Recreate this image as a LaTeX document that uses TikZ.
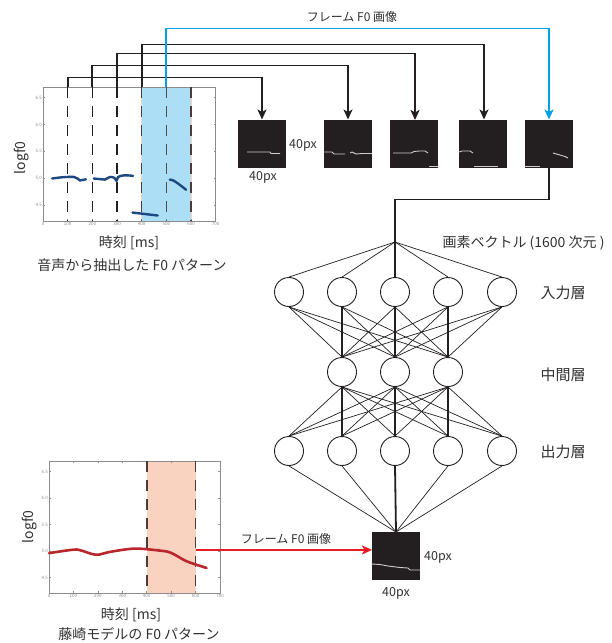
\documentclass[tikz,border=0pt]{standalone}
\usepackage{fontspec}
\setmainfont{Noto Sans CJK JP}
\usetikzlibrary{arrows.meta,calc}
\definecolor{imgbg}{RGB}{35,31,32}
\definecolor{fblue}{RGB}{172,222,246}
\definecolor{fpink}{RGB}{250,210,192}
\definecolor{cyanl}{RGB}{0,160,228}
\definecolor{redl}{RGB}{232,28,36}
\definecolor{cblue}{RGB}{30,72,130}
\definecolor{cred}{RGB}{185,38,44}
\definecolor{axg}{RGB}{140,140,140}
\definecolor{lnk}{RGB}{35,31,32}
\definecolor{pxg}{RGB}{205,205,205}
\definecolor{txt}{RGB}{50,50,50}
\definecolor{dbrown}{RGB}{75,60,58}
\begin{document}
\begin{tikzpicture}[x=1pt,y=-1pt,
  imgbox/.style={fill=imgbg,draw=none,minimum size=48pt,inner sep=0pt,outer sep=0pt},
  neuron/.style={circle,draw=lnk,line width=0.9pt,minimum size=29pt,inner sep=0pt},
  conn/.style={draw=lnk,line width=1.8pt,-{Stealth[length=10pt,width=9pt,inset=2.5pt]}},
  cconn/.style={conn,draw=cyanl},
  rconn/.style={conn,draw=redl},
  nedge/.style={draw=lnk,line width=0.7pt},
  tedge/.style={draw=lnk,line width=1.8pt},
  pxline/.style={draw=pxg,line width=0.9pt},
  frame/.style={draw=axg,line width=0.7pt},
  dline/.style={line width=1.4pt,dash pattern=on 11pt off 8pt},
  ticklab/.style={font=\fontsize{4.5}{4.5}\selectfont,text=axg,inner sep=1pt},
  lab/.style={font=\fontsize{14}{16}\selectfont,text=txt},
  small/.style={font=\fontsize{12}{14}\selectfont,text=txt},
  pxlab/.style={font=\fontsize{12.5}{14}\selectfont,text=txt},
  layer/.style={font=\fontsize{15}{17}\selectfont,text=txt}
]
\fill[white] (0,0) rectangle (611,643);
\useasboundingbox (0,0) rectangle (611,643);

% ---------------- top plot ----------------
\begin{scope}[shift={(43,178)},x=0.2467pt,y=53.6pt]
  \fill[fblue] (400,-0.8) rectangle (600,1.69);
  \draw[fpink,line width=0.6pt] (400,-0.8) rectangle (600,1.69);
  \draw[frame] (0,-0.8) rectangle (700,1.69);
  \foreach \t in {100,200,...,600}{
    \draw[axg,line width=0.5pt] (\t,-0.8) -- ++(0pt,2pt) (\t,1.69) -- ++(0pt,-2pt);
  }
  \foreach \v/\l in {1.5/6.5,1.0/6.0,0.5/5.5,0/5.0,-0.5/4.5}{
    \draw[axg,line width=0.5pt] (0,\v) -- ++(2pt,0pt) (700,\v) -- ++(-2pt,0pt);
    \node[ticklab,left] at (0,\v) {\l};
  }
  \foreach \t in {0,100,...,700}{\node[ticklab,below] at (\t,-0.8) {\t};}
  \foreach \t/\c in {100/lnk,200/lnk,300/lnk,400/dbrown,500/lnk!80,600/dbrown}{
    \draw[dline,\c] (\t,1.69) -- (\t,-0.8);
  }
  \draw[cblue,line width=2.4pt,line cap=round] plot[smooth,tension=0.6] coordinates
    {(37,-0.01) (70,0.01) (100,0.02) (125,0.02) (140,-0.01) (150,-0.045) (162,-0.035) (174,-0.025)};
  \draw[cblue,line width=2.4pt,line cap=round] plot[smooth,tension=0.6] coordinates
    {(206,-0.01) (230,-0.02) (250,-0.03) (272,0.02) (290,0.0) (298,-0.05) (305,0.02) (330,0.05) (365,0.04)};
  \draw[cblue,line width=2.4pt,line cap=round] (363,-0.645) -- (465,-0.70);
  \draw[cblue,line width=2.4pt,line cap=round] plot[smooth,tension=0.6] coordinates
    {(514,-0.03) (530,-0.05) (555,-0.13) (580,-0.22)};
  \coordinate (t1) at (100,1.69);
  \coordinate (t2) at (200,1.69);
  \coordinate (t3) at (300,1.69);
  \coordinate (t4) at (400,1.69);
  \coordinate (t5) at (500,1.69);
\end{scope}
\node[lab,rotate=90] (ylab1) at (22,158) {logf0};
\node[lab] (xlab1) at (129,243) {時刻 [ms]};
\node[lab] (tit1) at (132,265) {音声から抽出した F0 パターン};

% ---------------- frame images ----------------
\node[imgbox] (box1) at (262,143.5) {};
\node[imgbox] (box2) at (348,143.5) {};
\node[imgbox] (box3) at (414,144) {};
\node[imgbox] (box4) at (483,143.5) {};
\node[imgbox] (box5) at (549,143.5) {};
\draw[pxline] (247,152) -- (270,152) -- (271,153.5) -- (280,153.5);
\draw[pxline] (324,152) -- (332,152) -- (334,154) -- (345,154);
\draw[pxline] (350,153) -- (352,152) -- (356,154) -- (362,153.5) -- (372,153.5);
\draw[pxline] (393,153) -- (411,153) -- (414,151.5) -- (419,151) -- (425,151) -- (428,153);
\draw[pxline] (429,166) -- (438,166);
\draw[pxline] (459,152) -- (462,151) -- (470,151) -- (473,153);
\draw[pxline] (474,166) -- (498,166);
\draw[pxline] (525,166) -- (540,166);
\draw[pxline] (553,153) -- (560,155) -- (565,156.5) -- (568,158);
\node[pxlab] (px1r) at (303,145) {40px};
\node[pxlab] (px1b) at (263,177) {40px};

\draw[conn] (t1) -- ++(0,-10) -| (box1.north);
\draw[conn] (t2) -- ++(0,-22) -| (box2.north);
\draw[conn] (t3) -- ++(0,-34) -| ([xshift=1pt]box3.north);
\draw[conn] (t4) -- ++(0,-43) -| ([xshift=1pt]box4.north);
\draw[cconn] (t5) -- ++(0,-59) -| (box5.north);
\node[small] (ftop) at (352,17) {フレーム F0 画像};

% ---------------- network ----------------
\foreach \i/\x in {1/289,2/342,3/395,4/448,5/502}{
  \node[neuron] (i\i) at (\x,292) {};
  \node[neuron] (o\i) at (\x,451) {};
}
\foreach \j/\x in {1/342,2/395,3/448}{
  \node[neuron] (h\j) at (\x,372) {};
}
\coordinate (fan) at (395,242);
\draw[tedge] (box5.south) -- ++(0,32) -| (fan) -- (i3.north);
\foreach \i in {1,2,4,5}{\draw[nedge] (fan) -- (i\i.north);}
\foreach \i in {1,...,5}{
  \foreach \j in {1,2,3}{
    \draw[nedge] (i\i.south) -- (h\j.north);
    \draw[nedge] (h\j.south) -- (o\i.north);
  }
}
\draw[tedge] (i2.south) -- (h1.north);
\draw[tedge] (i3.south) -- (h2.north);
\draw[tedge] (i4.south) -- (h3.north);
\draw[tedge] (h1.south) -- (o2.north);
\draw[tedge] (h2.south) -- (o3.north);
\draw[tedge] (h3.south) -- (o4.north);

\node[font=\fontsize{14}{16}\selectfont,text=txt,anchor=west] (vec) at (439,243) {画素ベクトル (1600 次元 )};
\node[layer] (lin) at (563,293) {入力層};
\node[layer] (lmid) at (563,375) {中間層};
\node[layer] (lout) at (563,452) {出力層};

% ---------------- output image ----------------
\node[imgbox] (obox) at (396,556) {};
\draw[pxline] (372,564) -- (380,564.5) -- (388,566) -- (400,567.5) -- (408,568) -- (410,570) -- (420,570);
\foreach \i in {1,2,4,5}{\draw[nedge] (o\i.south) -- (obox.north);}
\draw[tedge] (o3.south) -- (obox.north);
\node[pxlab] (px2r) at (438,557) {40px};
\node[pxlab] (px2b) at (396,593) {40px};

% ---------------- bottom plot ----------------
\begin{scope}[shift={(49,551)},x=0.2443pt,y=53pt]
  \fill[fpink] (400,-0.79) rectangle (600,1.70);
  \draw[frame] (0,-0.79) rectangle (700,1.70);
  \foreach \t in {100,200,...,600}{
    \draw[axg,line width=0.5pt] (\t,-0.79) -- ++(0pt,2pt) (\t,1.70) -- ++(0pt,-2pt);
  }
  \foreach \v/\l in {1.5/6.5,1.0/6.0,0.5/5.5,0/5.0,-0.5/4.5}{
    \draw[axg,line width=0.5pt] (0,\v) -- ++(2pt,0pt) (700,\v) -- ++(-2pt,0pt);
    \node[ticklab,left] at (0,\v) {\l};
  }
  \foreach \t in {0,100,...,700}{\node[ticklab,below] at (\t,-0.79) {\t};}
  \draw[dline,dbrown,line width=1.8pt] (400,1.70) -- (400,-0.79);
  \draw[dline,dbrown,line width=1.8pt] (600,1.70) -- (600,-0.79);
  \draw[cred,line width=2.6pt,line cap=round] plot[smooth,tension=0.6] coordinates
    {(0,-0.04) (100,0.025) (131,0.01) (192,-0.07) (246,-0.02) (314,0.03) (368,0.045) (449,0.01) (497,-0.03) (557,-0.18) (598,-0.25) (645,-0.32)};
  \coordinate (r0) at (600,0.02);
\end{scope}
\node[lab,rotate=90] (ylab2) at (30,527) {logf0};
\node[lab] (xlab2) at (131,615) {時刻 [ms]};
\node[lab] (tit2) at (139,634) {藤崎モデルの F0 パターン};

\draw[rconn] (r0) -- (r0 -| obox.west);
\node[small] (fbot) at (286,539) {フレーム F0 画像};
\end{tikzpicture}
\end{document}
